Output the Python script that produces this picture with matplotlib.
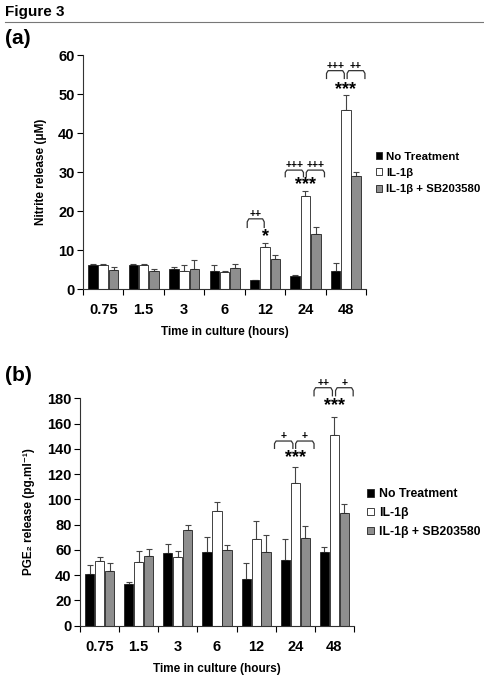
import numpy as np
import matplotlib
matplotlib.use("Agg")
import matplotlib.pyplot as plt
from matplotlib.patches import Patch

plt.rcParams['font.family'] = ['Liberation Sans', 'DejaVu Sans']
plt.rcParams['font.weight'] = 'bold'

times = ['0.75', '1.5', '3', '6', '12', '24', '48']
groups = ['No Treatment', 'IL-1\u03b2', 'IL-1\u03b2 + SB203580']
colors = ['#000000', '#ffffff', '#8e8e8e']

# (a) nitrite release (uM), mean and upper error
nit_nt = [6.2, 6.2, 5.1, 4.5, 2.2, 3.4, 4.6]
nit_il = [6.2, 6.2, 4.5, 4.4, 10.7, 23.9, 46.0]
nit_sb = [4.9, 4.5, 5.1, 5.4, 7.7, 14.0, 29.0]
nit_nt_err = [0.15, 0.1, 0.5, 1.6, 0.1, 0.3, 2.1]
nit_il_err = [0.1, 0.1, 1.6, 0.3, 1.2, 1.3, 3.8]
nit_sb_err = [0.8, 0.6, 2.3, 0.9, 0.9, 1.8, 0.9]

# (b) PGE2 release (pg/ml)
pge_nt = [41.2, 33.3, 57.3, 58.3, 36.9, 52.0, 58.6]
pge_il = [51.5, 50.1, 54.6, 90.8, 68.9, 113.0, 150.7]
pge_sb = [43.5, 55.4, 75.7, 60.2, 58.3, 69.1, 89.5]
pge_nt_err = [6.6, 1.0, 7.1, 11.6, 13.0, 16.9, 3.9]
pge_il_err = [2.9, 9.0, 4.5, 6.9, 14.0, 12.6, 14.8]
pge_sb_err = [6.4, 5.0, 4.0, 3.9, 13.5, 9.8, 7.1]

# significance: (group index, left, right, bracket top, leg bottom, label)
sig_a = [(4, -0.44, -0.02, 18.0, 15.8, '++'),
         (5, -0.50, -0.05, 30.5, 28.8, '+++'), (5, 0.02, 0.47, 30.5, 28.8, '+++'),
         (6, -0.48, -0.04, 56.0, 54.0, '+++'), (6, 0.03, 0.47, 56.0, 54.0, '++')]
star_a = [(4, 13.4, '*'), (5, 26.8, '***'), (6, 51.2, '***')]
sig_b = [(5, -0.53, -0.06, 146.2, 140.4, '+'), (5, 0.01, 0.48, 146.2, 140.4, '+'),
         (6, -0.52, -0.05, 188.4, 182.0, '++'), (6, 0.03, 0.48, 188.4, 182.0, '+')]
star_b = [(5, 133.0, '***'), (6, 174.5, '***')]

fig = plt.figure(figsize=(4.84, 6.78), dpi=100)
fig.text(0.01, 0.992, 'Figure 3', fontsize=11, fontweight='bold', va='top')
fig.add_artist(plt.Line2D([0.01, 1.0], [0.968, 0.968], color='#777777', lw=0.8))
fig.text(0.01, 0.957, '(a)', fontsize=15, fontweight='bold', va='top')
fig.text(0.01, 0.460, '(b)', fontsize=15, fontweight='bold', va='top')


def bracket(ax, x0, x1, top, bot, label):
    r = (top - bot) * 0.35
    xs = [x0, x0, x0 + 0.04, x1 - 0.04, x1, x1]
    ys = [bot, top - r, top, top, top - r, bot]
    ax.plot(xs, ys, color='#333333', lw=0.9, clip_on=False)
    ax.text((x0 + x1) / 2, top, label, ha='center', va='bottom', fontsize=7.5,
            fontweight='bold', clip_on=False)


def panel(rect, series, errs, ymax, ystep, ylabel, sigs, stars, ylab_x, xlab_y, leg_xy, leg_size):
    ax = fig.add_axes(rect)
    x = np.arange(len(times))
    w = 0.235
    for i, (vals, err) in enumerate(zip(series, errs)):
        pos = x + (i - 1) * 0.255
        ax.bar(pos, vals, w, color=colors[i], edgecolor='#222222', linewidth=0.6,
               label=groups[i], zorder=2)
        ax.errorbar(pos, vals, yerr=[np.zeros(len(vals)), err], fmt='none',
                    ecolor='#444444', elinewidth=0.8, capsize=2.5, capthick=0.8, zorder=1)
    for g, a, b, top, bot, lab in sigs:
        bracket(ax, g + a, g + b, top, bot, lab)
    for g, y, lab in stars:
        ax.text(g, y, lab, ha='center', va='center', fontsize=13, fontweight='bold')
    ax.set_xlim(-0.5, len(times) - 0.5)
    ax.set_ylim(0, ymax)
    ax.set_yticks(np.arange(0, ymax + 1, ystep))
    ax.set_xticks(x)
    ax.set_xticklabels(times)
    ax.set_xticks(np.arange(-0.5, len(times)), minor=True)
    ax.tick_params(axis='x', which='major', length=0, pad=10, labelsize=10.5)
    ax.tick_params(axis='x', which='minor', length=4, direction='out', width=0.8)
    ax.tick_params(axis='y', length=4, width=0.8, pad=2, labelsize=10.5)
    for s in ['top', 'right']:
        ax.spines[s].set_visible(False)
    for s in ['left', 'bottom']:
        ax.spines[s].set_linewidth(0.8)
        ax.spines[s].set_color('#333333')
    ax.set_ylabel(ylabel, fontsize=8.5, fontweight='bold')
    ax.yaxis.set_label_coords(ylab_x, 0.5)
    ax.set_xlabel('Time in culture (hours)', fontsize=8.5, fontweight='bold')
    ax.xaxis.set_label_coords(0.5, xlab_y)
    handles = [Patch(facecolor=colors[i], edgecolor='#222222', linewidth=0.6, label=groups[i])
               for i in range(3)]
    fig.legend(handles=handles, loc='center left', bbox_to_anchor=leg_xy, frameon=False,
               handlelength=0.55, handleheight=0.55, handletextpad=0.4,
               labelspacing=0.55, borderpad=0, borderaxespad=0,
               prop={'weight': 'bold', 'size': leg_size})
    return ax


panel([0.1715, 0.5737, 0.585, 0.3451], [nit_nt, nit_il, nit_sb],
      [nit_nt_err, nit_il_err, nit_sb_err], 60, 10, 'Nitrite release (\u03bcM)',
      sig_a, star_a, -0.127, -0.158, (0.776, 0.745), 8.2)
panel([0.1653, 0.0771, 0.566, 0.3354], [pge_nt, pge_il, pge_sb],
      [pge_nt_err, pge_il_err, pge_sb_err], 180, 20,
      'PGE\u2082 release (pg.ml\u207b\u00b9)',
      sig_b, star_b, -0.164, -0.164, (0.759, 0.2434), 8.8)

fig.savefig('out.png', dpi=100)
